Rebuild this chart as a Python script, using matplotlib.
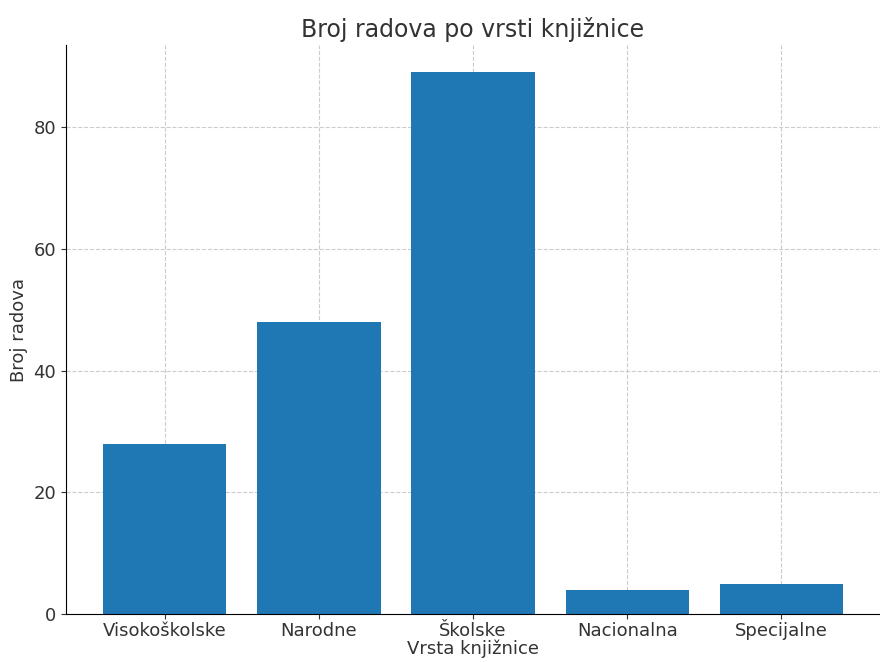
import matplotlib
matplotlib.use("Agg")
import matplotlib.pyplot as plt

categories = ["Visokoškolske", "Narodne", "Školske", "Nacionalna", "Specijalne"]
values = [28, 48, 89, 4, 5]

fig, ax = plt.subplots(figsize=(8.8, 6.62), dpi=100)
ax.bar(categories, values, color="#1f77b4", width=0.8)
ax.set_title("Broj radova po vrsti knjižnice", fontsize=17, color="#333333")
ax.set_xlabel("Vrsta knjižnice", fontsize=13, color="#333333", labelpad=0)
ax.set_ylabel("Broj radova", fontsize=13, color="#333333")
ax.tick_params(axis="both", labelsize=13, colors="#333333")
ax.tick_params(axis="x", pad=2)
ax.grid(True, linestyle="--", color="#cccccc", linewidth=0.8)
ax.set_axisbelow(True)
ax.spines["top"].set_visible(False)
ax.spines["right"].set_visible(False)
fig.subplots_adjust(left=0.075, right=1.0, top=0.932, bottom=0.072)
fig.savefig("out.png", dpi=100)
